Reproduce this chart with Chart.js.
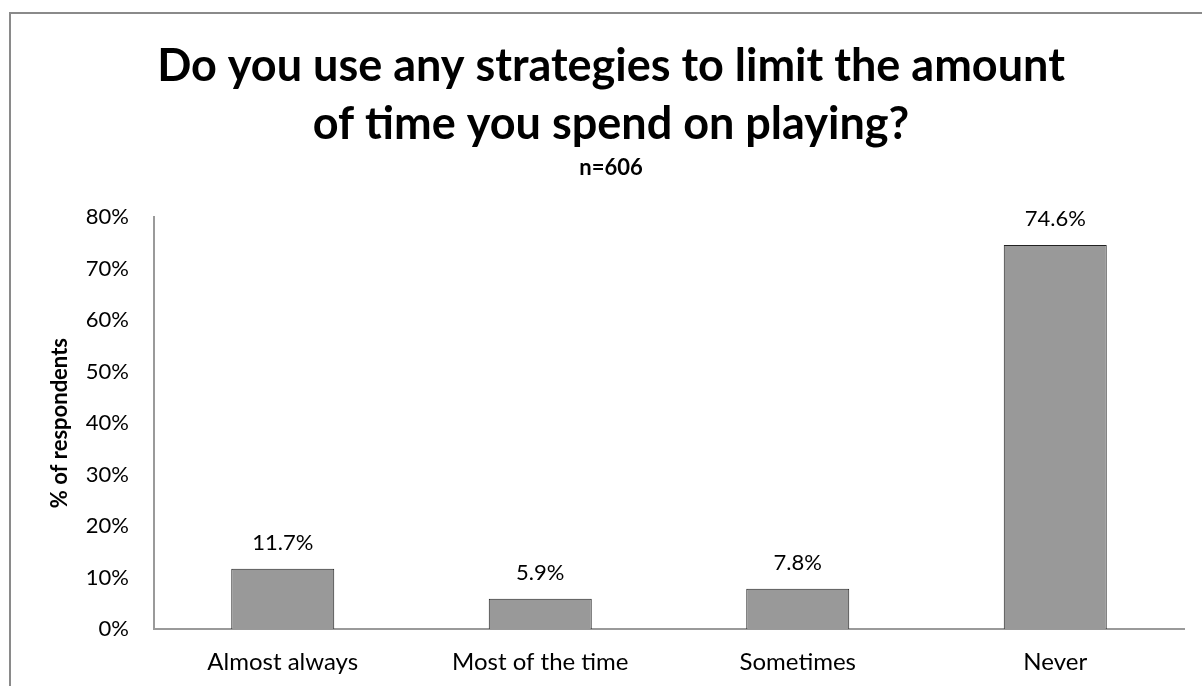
<!DOCTYPE html>
<html lang="en">
<head>
  <meta charset="UTF-8" />
  <title>Strategies to limit playing time</title>
  <style>
    html, body { margin: 0; padding: 0; background: #fff; overflow: hidden; }
    #frame {
      position: absolute; left: 9px; top: 12px;
      width: 1220px; height: 700px;
      border-left: 2px solid #8a8a8a; border-top: 2px solid #8a8a8a;
    }
    #wrap { position: absolute; left: 0; top: 0; width: 1200px; height: 680px; }
  </style>
</head>
<body>

<div id="frame">
  <div id="wrap"><canvas id="chart"></canvas></div>
</div>

<script src="https://cdn.jsdelivr.net/npm/chart.js"></script>
<script>
const categories = ["Almost always", "Most of the time", "Sometimes", "Never"];
const shares = [11.7, 5.9, 7.8, 74.6];   // % of respondents
const yTicks = [0, 10, 20, 30, 40, 50, 60, 70, 80];

const FONT = "Lato, 'Open Sans', sans-serif";

// value labels above each bar
const barLabels = {
  id: "barLabels",
  afterDatasetsDraw(chart) {
    const ctx = chart.ctx;
    const meta = chart.getDatasetMeta(0);
    ctx.save();
    ctx.font = "22px " + FONT;
    ctx.fillStyle = "#000";
    ctx.textAlign = "center";
    ctx.textBaseline = "bottom";
    meta.data.forEach((bar, i) => {
      ctx.fillText(shares[i].toFixed(1) + "%", bar.x, bar.y - 15);
    });
    ctx.restore();
  }
};

const ctx = document.getElementById("chart").getContext("2d");
new Chart(ctx, {
  type: "bar",
  data: {
    labels: categories,
    datasets: [{
      data: shares,
      backgroundColor: "#999999",
      borderColor: "#222222",
      borderWidth: { top: 1, left: 1, right: 1, bottom: 0 },
      categoryPercentage: 1,
      barPercentage: 0.4
    }]
  },
  options: {
    responsive: true,
    maintainAspectRatio: false,
    animation: false,
    // equal side padding keeps the title centred on the frame
    layout: { padding: { top: 0, right: 27, bottom: 0, left: 27 } },
    plugins: {
      legend: { display: false },
      tooltip: { enabled: false },
      title: {
        display: true,
        text: ["Do you use any strategies to limit the amount", "of time you spend on playing?"],
        color: "#000",
        font: { family: FONT, size: 45, weight: "bold", lineHeight: "58px" },
        padding: { top: 23, bottom: 0 }
      },
      subtitle: {
        display: true,
        text: "n=606",
        color: "#000",
        font: { family: FONT, size: 22, weight: "bold", lineHeight: 1.1 },
        padding: { top: 3, bottom: 37 }
      }
    },
    scales: {
      x: {
        grid: { display: false, drawTicks: false },
        border: { display: true, color: "#9a9a9a", width: 2 },
        ticks: { color: "#000", font: { family: FONT, size: 24 }, padding: 19 },
        afterFit(scale) { scale.height = 65; }
      },
      y: {
        min: 0,
        max: 80,
        afterBuildTicks(scale) { scale.ticks = yTicks.map(v => ({ value: v })); },
        grid: { display: false, drawTicks: false },
        border: { display: true, color: "#9a9a9a", width: 2 },
        ticks: {
          color: "#000",
          font: { family: FONT, size: 22 },
          padding: 25,
          callback: v => v + "%"
        },
        title: {
          display: true,
          text: "% of respondents",
          color: "#000",
          font: { family: FONT, size: 22, weight: "bold" },
          padding: { top: 9, bottom: 0 }
        },
        afterFit(scale) { scale.width = 116; }
      }
    }
  },
  plugins: [barLabels]
});
</script>

</body>
</html>
